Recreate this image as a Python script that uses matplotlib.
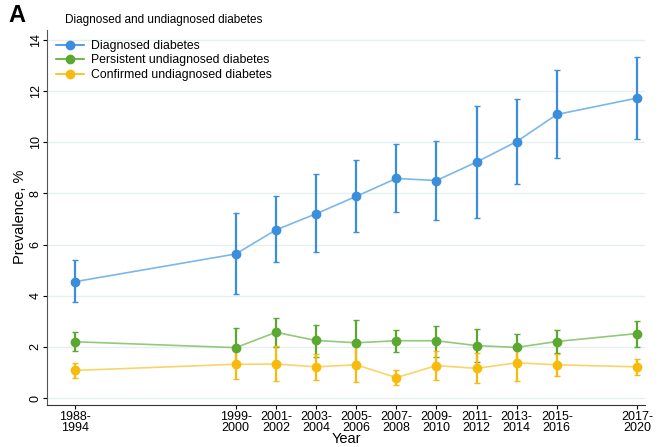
import numpy as np
import matplotlib.pyplot as plt

plt.rcParams['font.family'] = ['Liberation Sans', 'DejaVu Sans']

periods = ['1988-\n1994', '1999-\n2000', '2001-\n2002', '2003-\n2004', '2005-\n2006',
           '2007-\n2008', '2009-\n2010', '2011-\n2012', '2013-\n2014', '2015-\n2016',
           '2017-\n2020']
xpos = [0, 4, 5, 6, 7, 8, 9, 10, 11, 12, 14]

diag = [4.55, 5.63, 6.57, 7.2, 7.88, 8.58, 8.5, 9.22, 10.02, 11.08, 11.72]
diag_lo = [3.75, 4.05, 5.3, 5.7, 6.5, 7.27, 6.95, 7.03, 8.38, 9.37, 10.12]
diag_hi = [5.4, 7.25, 7.9, 8.75, 9.29, 9.92, 10.04, 11.4, 11.69, 12.8, 13.32]

pers = [2.2, 1.97, 2.57, 2.25, 2.16, 2.24, 2.24, 2.05, 1.98, 2.21, 2.52]
pers_lo = [1.84, 1.3, 2.0, 1.61, 1.41, 1.8, 1.6, 1.41, 1.49, 1.76, 2.0]
pers_hi = [2.59, 2.72, 3.14, 2.85, 3.06, 2.66, 2.82, 2.68, 2.5, 2.66, 3.03]

conf = [1.08, 1.32, 1.33, 1.22, 1.3, 0.8, 1.27, 1.16, 1.38, 1.3, 1.22]
conf_lo = [0.8, 0.76, 0.68, 0.72, 0.63, 0.52, 0.72, 0.57, 0.68, 0.85, 0.92]
conf_hi = [1.38, 1.92, 2.02, 1.72, 2.02, 1.1, 1.84, 1.75, 2.08, 1.74, 1.52]

series = [
    ('Diagnosed diabetes', diag, diag_lo, diag_hi, '#3a8edb', '#7ab8ea'),
    ('Persistent undiagnosed diabetes', pers, pers_lo, pers_hi, '#5ba830', '#93c97a'),
    ('Confirmed undiagnosed diabetes', conf, conf_lo, conf_hi, '#f8bb0c', '#f9d46a'),
]

fig = plt.figure(figsize=(6.65, 4.47), dpi=100)
ax = fig.add_axes([0.071, 0.094, 0.899, 0.84])

for name, y, lo, hi, col, lcol in series:
    y = np.array(y)
    err = [y - np.array(lo), np.array(hi) - y]
    ax.errorbar(xpos, y, yerr=err, fmt='none', ecolor=col, elinewidth=1.6,
                capsize=2.5, capthick=1, zorder=2)
    ax.plot(xpos, y, color=lcol, lw=1.2, zorder=3)
    ax.plot(xpos, y, 'o', color=col, ms=6, zorder=4)
    ax.plot([], [], '-o', color=col, ms=6, lw=1.2, label=name)

ax.set_xlim(-0.7, 14.2)
ax.set_ylim(-0.27, 14.4)
ax.set_yticks(range(0, 15, 2))
ax.set_xticks(xpos)
ax.set_xticklabels(periods, fontsize=9, linespacing=0.9)
for t in ax.get_yticklabels():
    t.set_rotation(90)
    t.set_va('center')
    t.set_fontsize(9)
ax.grid(axis='y', color='#e6f0f1', lw=1)
ax.set_axisbelow(True)
ax.spines['top'].set_visible(False)
ax.spines['right'].set_visible(False)
ax.spines['left'].set_color('#555555')
ax.spines['bottom'].set_color('#333333')
ax.tick_params(length=3, width=0.8, pad=1)
ax.set_xlabel('Year', fontsize=10.5, labelpad=-1)
ax.set_ylabel('Prevalence, %', fontsize=10.5, labelpad=2)

ax.legend(loc='upper left', bbox_to_anchor=(0.0, 0.995), frameon=False, fontsize=8.8,
          handlelength=2.3, handletextpad=0.6, labelspacing=0.2, borderaxespad=0.3)

fig.text(0.098, 0.955, 'Diagnosed and undiagnosed diabetes', fontsize=8.5, va='center')
fig.text(0.012, 0.965, 'A', fontsize=17, fontweight='bold', va='center')

plt.savefig('out.png', dpi=100)
